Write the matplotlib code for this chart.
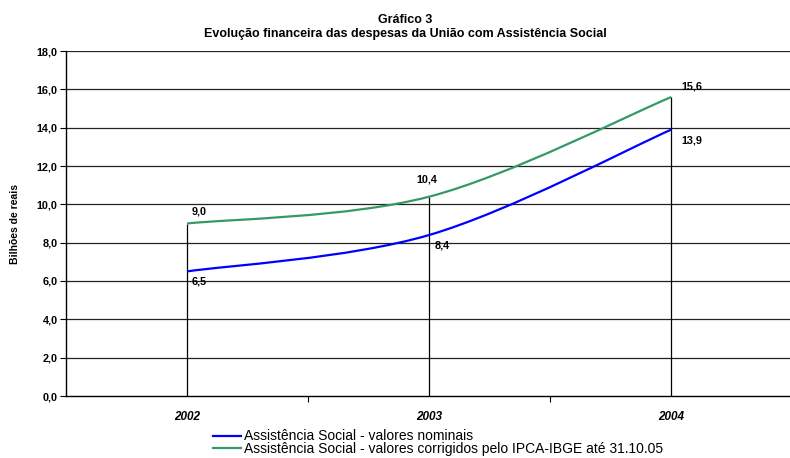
import matplotlib.pyplot as plt
from matplotlib.path import Path
from matplotlib.patches import PathPatch

plt.rcParams['font.family'] = ['Liberation Sans', 'DejaVu Sans']

anos = ["2002", "2003", "2004"]
nominais = [6.5, 8.4, 13.9]
corrigidos = [9.0, 10.4, 15.6]
rot_nominais = ["6,5", "8,4", "13,9"]
rot_corrigidos = ["9,0", "10,4", "15,6"]
y_ticks = [0, 2, 4, 6, 8, 10, 12, 14, 16, 18]


def smooth_path(xs, ys):
    # bezier suavizado estilo Excel (Catmull-Rom)
    pts = list(zip(xs, ys))
    verts = [pts[0]]
    codes = [Path.MOVETO]
    n = len(pts)
    for i in range(n - 1):
        p0 = pts[i - 1] if i > 0 else pts[i]
        p1 = pts[i]
        p2 = pts[i + 1]
        p3 = pts[i + 2] if i + 2 < n else pts[i + 1]
        c1 = (p1[0] + (p2[0] - p0[0]) / 6, p1[1] + (p2[1] - p0[1]) / 6)
        c2 = (p2[0] - (p3[0] - p1[0]) / 6, p2[1] - (p3[1] - p1[1]) / 6)
        verts += [c1, c2, p2]
        codes += [Path.CURVE4] * 3
    return Path(verts, codes)


fig = plt.figure(figsize=(7.9, 4.58), dpi=100)
ax = fig.add_axes([66 / 790, 62 / 458, 1 - 66 / 790, 345 / 458])

x = list(range(len(anos)))
ax.set_xlim(-0.5, 2.49)
ax.set_ylim(0, 18)

for y in y_ticks[1:]:
    ax.axhline(y, color="#222222", lw=0.9, zorder=1)

# linhas de queda
ax.vlines(x, 0, [max(a, b) for a, b in zip(nominais, corrigidos)],
          color="black", lw=0.9, zorder=2)

azul = "#0000FF"
verde = "#339966"
ax.add_patch(PathPatch(smooth_path(x, nominais), fill=False, ec=azul, lw=1.6, zorder=3))
ax.add_patch(PathPatch(smooth_path(x, corrigidos), fill=False, ec=verde, lw=1.6, zorder=3))
ax.plot([], [], color=azul, lw=1.6, label="Assistência Social - valores nominais")
ax.plot([], [], color=verde, lw=1.6, label="Assistência Social - valores corrigidos pelo IPCA-IBGE até 31.10.05")

fs = 7.8
ax.annotate(rot_corrigidos[0], (x[0], corrigidos[0]), xytext=(3, 5), textcoords="offset points",
            fontsize=fs, fontweight="bold", va="bottom")
ax.annotate(rot_nominais[0], (x[0], nominais[0]), xytext=(3, -4), textcoords="offset points",
            fontsize=fs, fontweight="bold", va="top")
ax.annotate(rot_corrigidos[1], (x[1], corrigidos[1]), xytext=(-9, 9), textcoords="offset points",
            fontsize=fs, fontweight="bold", va="bottom")
ax.annotate(rot_nominais[1], (x[1], nominais[1]), xytext=(4, -4), textcoords="offset points",
            fontsize=fs, fontweight="bold", va="top")
ax.annotate(rot_corrigidos[2], (x[2], corrigidos[2]), xytext=(7, 4), textcoords="offset points",
            fontsize=fs, fontweight="bold", va="bottom")
ax.annotate(rot_nominais[2], (x[2], nominais[2]), xytext=(7, -4), textcoords="offset points",
            fontsize=fs, fontweight="bold", va="top")

for s in ["top", "right"]:
    ax.spines[s].set_visible(False)
ax.spines["left"].set_linewidth(1.0)
ax.spines["bottom"].set_linewidth(1.0)

ax.set_yticks(y_ticks)
ax.set_yticklabels([f"{v:.1f}".replace(".", ",") for v in y_ticks], fontsize=fs, fontweight="bold")
ax.tick_params(axis="y", length=4, width=0.8, pad=2)

ax.set_xticks([0.5, 1.5])
ax.set_xticklabels([])
ax.set_xticks(x, minor=True)
ax.set_xticklabels(anos, minor=True, fontsize=8.5, fontweight="bold", style="italic")
ax.tick_params(axis="x", which="major", length=4, width=0.8)
ax.tick_params(axis="x", which="minor", length=0, pad=11)

ax.set_ylabel("Bilhões de reais", fontsize=7.5, fontweight="bold", labelpad=12)

fig.text(405 / 790, 1 - 20 / 458, "Gráfico 3", ha="center", va="center", fontsize=9, fontweight="bold")
fig.text(405 / 790, 1 - 34.5 / 458, "Evolução financeira das despesas da União com Assistência Social",
         ha="center", va="center", fontsize=9, fontweight="bold")

fig.legend(loc="upper left", bbox_to_anchor=(213 / 790, 1 - 429.5 / 458), frameon=False,
           fontsize=10, handlelength=2.0, handletextpad=0.2, labelspacing=-0.1,
           borderpad=0, borderaxespad=0)

fig.savefig("out.png", dpi=100)
